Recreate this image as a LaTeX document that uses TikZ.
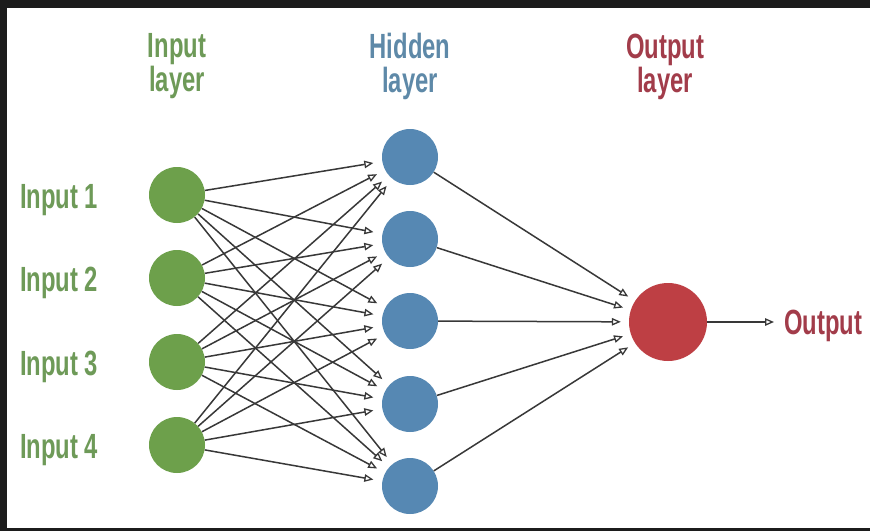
\documentclass[tikz,border=0pt]{standalone}
\usepackage{fontspec}
\setmainfont{Liberation Sans}
\usetikzlibrary{arrows.meta}
\definecolor{frame}{HTML}{1C1C1C}
\definecolor{ingreen}{HTML}{6DA04B}
\definecolor{intext}{HTML}{6E9A58}
\definecolor{hidblue}{HTML}{5688B3}
\definecolor{hidtext}{HTML}{5E89A8}
\definecolor{outred}{HTML}{BE3F44}
\definecolor{outtext}{HTML}{A23C4A}
\definecolor{edge}{HTML}{383838}
\newcommand\cnd[1]{\scalebox{0.68}[1]{#1}}
\begin{document}
\begin{tikzpicture}[x=1pt,y=-1pt,
  neuron/.style={circle,inner sep=0pt,minimum size=56pt,draw=none},
  innode/.style={neuron,fill=ingreen},
  hidnode/.style={neuron,fill=hidblue},
  outnode/.style={circle,inner sep=0pt,minimum size=78pt,draw=none,fill=outred},
  lbl/.style={inner sep=0pt,font=\fontsize{35}{40}\selectfont\bfseries},
  conn/.style={draw=edge,line width=1.5pt,-{Triangle[open,length=9pt,width=7.5pt,line width=1.3pt]}}]
\useasboundingbox (0,0) rectangle (870,531);
\fill[frame] (0,0) rectangle (870,531);
\fill[white] (7,8) rectangle (870,528);
% headings
\node[lbl,text=intext,anchor=base] (h1a) at (177,57) {\cnd{Input}};
\node[lbl,text=intext,anchor=base] (h1b) at (177,91) {\cnd{layer}};
\node[lbl,text=hidtext,anchor=base] (h2a) at (410,58) {\cnd{Hidden}};
\node[lbl,text=hidtext,anchor=base] (h2b) at (410,92) {\cnd{layer}};
\node[lbl,text=outtext,anchor=base] (h3a) at (665,58) {\cnd{Output}};
\node[lbl,text=outtext,anchor=base] (h3b) at (665,92) {\cnd{layer}};
% input nodes
\foreach \i/\y in {1/195,2/278,3/362,4/445}{
  \node[innode] (i\i) at (177,\y) {};
  \node[lbl,text=intext,anchor=base west] (l\i) at (20,\y+13) {\cnd{Input \i}};
}
% hidden nodes
\foreach \j/\y in {1/157,2/239,3/321,4/404,5/486}{
  \node[hidnode] (h\j) at (410,\y) {};
}
% output node
\node[outnode] (o) at (668,322) {};
\node[lbl,text=outtext,anchor=base west] (ol) at (784,334) {\cnd{Output}};
% connections
\foreach \i in {1,...,4}{
  \foreach \j in {1,...,5}{
    \draw[conn,shorten >=9pt] (i\i) -- (h\j);
  }
}
\foreach \j in {1,...,5}{
  \draw[conn,shorten >=8pt] (h\j) -- (o);
}
\draw[conn,shorten >=10pt] (o.east) -- (o.east -| ol.west);
\end{tikzpicture}
\end{document}
